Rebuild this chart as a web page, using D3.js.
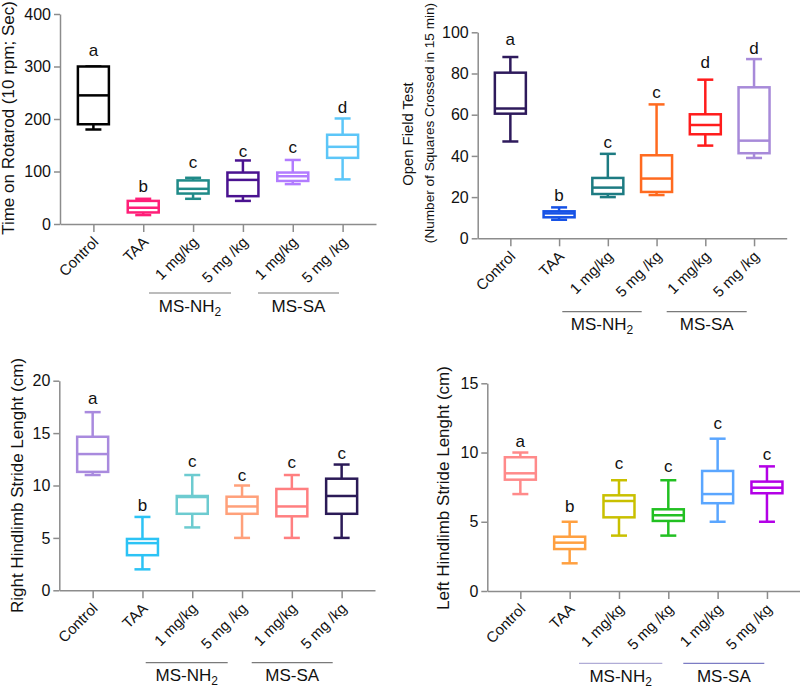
<!DOCTYPE html>
<html><head><meta charset="utf-8">
<script src="https://cdn.jsdelivr.net/npm/d3@7"></script>
<style>
body{margin:0;background:#fff}
svg{display:block}
text{font-family:"Liberation Sans",Arial,Helvetica,sans-serif;fill:#111}
</style>
</head><body>
<svg id="chart" width="800" height="688"></svg>
<script>
// ---------- data ----------
const categories = ["Control","TAA","1 mg/kg","5 mg /kg","1 mg/kg","5 mg /kg"];
const groupNames = ["MS-NH", "MS-SA"]; // first gets subscript 2

// each box: [min, q1, median, q3, max]
const rotarodValues = [[180,190,245,300,300],[17,22,31,44,48],[48,58,67,83,88],[44,53,84,98,121],[76,82,91,98,122],[85,126,147,170,201]];
const rotarodLetters = ["a","b","c","c","c","d"];
const rotarodLetterAt = [320,61,106,127,135,211];
const rotarodTicks = [0,100,200,300,400];
const rotarodColors = ["#000000","#ff1f78","#1f8a88","#4a1290","#b27cff","#5cc6f8"];

const openFieldValues = [[47,60.5,63,80.4,88],[9,10.2,12.1,13.1,15],[20,21.5,24.6,29.3,41],[21,22.5,29,40.3,65],[45,50.5,55,60.2,77],[39,41.3,47.4,73.3,87]];
const openFieldLetters = ["a","b","c","c","d","d"];
const openFieldLetterAt = [93.8,18.1,43.7,68,82.5,89.5];
const openFieldTicks = [0,20,40,60,80,100];
const openFieldColors = ["#2e1a5c","#1652e6","#1d7b82","#ff6a1f","#ff1c1c","#a78ad9"];

const rightStrideValues = [[11,11.3,13,14.65,17],[2,3.35,4.5,4.9,7],[6,7.3,8.9,9,11],[5,7.3,8,8.93,10],[5,7.06,8,9.67,11],[5,7.3,9,10.65,12]];
const rightStrideLetters = ["a","b","c","c","c","c"];
const rightStrideLetterAt = [17.75,7.6,11.8,10.46,11.64,12.5];
const rightStrideTicks = [0,5,10,15,20];
const rightStrideColors = ["#a98ade","#2cc3f5","#6dcbd0","#ffa07a","#ff7f80","#2b1a57"];

const leftStrideValues = [[7,8.04,8.5,9.66,10],[2,3.03,3.49,3.92,5],[4,5.32,6.5,6.91,8],[4,5.06,5.47,5.9,8],[5,6.34,7,8.67,11],[5,7.06,7.46,7.9,9]];
const leftStrideLetters = ["a","b","c","c","c","c"];
const leftStrideLetterAt = [10.38,5.69,8.84,8.62,11.68,9.47];
const leftStrideTicks = [0,5,10,15];
const leftStrideColors = ["#ff8a8a","#ffa040","#c9c000","#22c022","#5aa6ff","#b300e6"];

// ---------- layout ----------
const panels = [
  {values: rotarodValues, letters: rotarodLetters, letterAt: rotarodLetterAt, ticks: rotarodTicks, colors: rotarodColors,
   x: [60,376], y: [224,14],
   title: ["Time on Rotarod (10 rpm; Sec)"], titleX: [14], titleY: [118], titleSize: [17],
   groupLines: [[149,231],[258,339]], groupLineY: 293, groupLabelY: 312, groupLineColors: ["#7a7a7a","#7a7a7a"]},
  {values: openFieldValues, letters: openFieldLetters, letterAt: openFieldLetterAt, ticks: openFieldTicks, colors: openFieldColors,
   x: [477.7,786.7], y: [238.3,32.3],
   title: ["Open Field Test","(Number of Squares Crossed in 15 min)"], titleX: [413,434], titleY: [134,123], titleSize: [14.8,13.6],
   groupLines: [[562.3,641.7],[666.7,746.7]], groupLineY: 311.7, groupLabelY: 330, groupLineColors: ["#7a7a7a","#7a7a7a"]},
  {values: rightStrideValues, letters: rightStrideLetters, letterAt: rightStrideLetterAt, ticks: rightStrideTicks, colors: rightStrideColors,
   x: [59.3,375], y: [590.3,380.7],
   title: ["Right Hindlimb Stride Lenght (cm)"], titleX: [23], titleY: [485.5], titleSize: [17],
   groupLines: [[145.7,227.7],[251.7,332.7]], groupLineY: 662.7, groupLabelY: 681, groupLineColors: ["#7a7a7a","#7a7a7a"]},
  {values: leftStrideValues, letters: leftStrideLetters, letterAt: leftStrideLetterAt, ticks: leftStrideTicks, colors: leftStrideColors,
   x: [487.3,800], y: [591,383.3],
   title: ["Left Hindlimb Stride Lenght (cm)"], titleX: [449], titleY: [488], titleSize: [17],
   groupLines: [[579,662.3],[683.3,764.3]], groupLineY: 663.3, groupLabelY: 682, groupLineColors: ["#b0acd6","#7c7cc4"]}
];

const svg = d3.select("#chart");
const axisColor = "#8c8c8c";
const boxW = 31, capW = 16, strokeW = 2.5;

panels.forEach(p => {
  const g = svg.append("g");
  const xs = d3.scalePoint().domain(d3.range(categories.length)).range(p.x).padding(0.67);
  const ys = d3.scaleLinear().domain([0, d3.max(p.ticks)]).range(p.y);

  // y axis
  const ya = g.append("g").attr("transform", `translate(${p.x[0]},0)`)
    .call(d3.axisLeft(ys).tickValues(p.ticks).tickSize(6).tickSizeOuter(0).tickPadding(3));
  ya.select(".domain").attr("stroke", axisColor).attr("stroke-width", 1.5);
  ya.selectAll(".tick line").attr("stroke", axisColor).attr("stroke-width", 1.5);
  ya.selectAll(".tick text").attr("font-size", 16).attr("fill", "#111")
    .attr("font-family", '"Liberation Sans",Arial,sans-serif');

  // x axis
  const xa = g.append("g").attr("transform", `translate(0,${p.y[0]})`)
    .call(d3.axisBottom(xs).tickSize(8).tickSizeOuter(0).tickFormat(""));
  xa.select(".domain").attr("stroke", axisColor).attr("stroke-width", 1.5);
  xa.selectAll(".tick line").attr("stroke", axisColor).attr("stroke-width", 1.5);

  // rotated category labels
  g.selectAll(".cat").data(categories).join("text")
    .attr("class", "cat")
    .attr("transform", (d, i) => `translate(${xs(i) + 6},${p.y[0] + 19}) rotate(-45)`)
    .attr("text-anchor", "end")
    .attr("font-size", 15)
    .text(d => d);

  // boxes
  const b = g.selectAll(".box").data(p.values).join("g").attr("class", "box")
    .attr("stroke", (d, i) => p.colors[i]).attr("stroke-width", strokeW).attr("fill", "none");
  b.append("line").attr("x1", (d, i) => xs(i)).attr("x2", (d, i) => xs(i))
    .attr("y1", d => ys(d[3])).attr("y2", d => ys(d[4]));
  b.append("line").attr("x1", (d, i) => xs(i)).attr("x2", (d, i) => xs(i))
    .attr("y1", d => ys(d[1])).attr("y2", d => ys(d[0]));
  b.append("line").attr("x1", (d, i) => xs(i) - capW / 2).attr("x2", (d, i) => xs(i) + capW / 2)
    .attr("y1", d => ys(d[4])).attr("y2", d => ys(d[4]));
  b.append("line").attr("x1", (d, i) => xs(i) - capW / 2).attr("x2", (d, i) => xs(i) + capW / 2)
    .attr("y1", d => ys(d[0])).attr("y2", d => ys(d[0]));
  b.append("rect").attr("x", (d, i) => xs(i) - boxW / 2).attr("width", boxW)
    .attr("y", d => ys(d[3])).attr("height", d => ys(d[1]) - ys(d[3])).attr("fill", "#fff");
  b.append("line").attr("x1", (d, i) => xs(i) - boxW / 2).attr("x2", (d, i) => xs(i) + boxW / 2)
    .attr("y1", d => ys(d[2])).attr("y2", d => ys(d[2]));

  // significance letters
  g.selectAll(".let").data(p.letters).join("text").attr("class", "let")
    .attr("x", (d, i) => xs(i)).attr("y", (d, i) => ys(p.letterAt[i]))
    .attr("text-anchor", "middle").attr("font-size", 17).text(d => d);

  // y title
  p.title.forEach((t, k) => {
    g.append("text")
      .attr("transform", `translate(${p.titleX[k]},${p.titleY[k]}) rotate(-90)`)
      .attr("text-anchor", "middle").attr("font-size", p.titleSize[k]).text(t);
  });

  // group lines and labels
  p.groupLines.forEach((r, k) => {
    g.append("line").attr("x1", r[0]).attr("x2", r[1])
      .attr("y1", p.groupLineY).attr("y2", p.groupLineY)
      .attr("stroke", p.groupLineColors[k]).attr("stroke-width", 1.2);
    const t = g.append("text").attr("x", (r[0] + r[1]) / 2).attr("y", p.groupLabelY)
      .attr("text-anchor", "middle").attr("font-size", 17);
    t.append("tspan").text(groupNames[k]);
    if (k === 0) t.append("tspan").attr("font-size", 12).attr("dy", 4).text("2");
  });
});
</script>
</body></html>
